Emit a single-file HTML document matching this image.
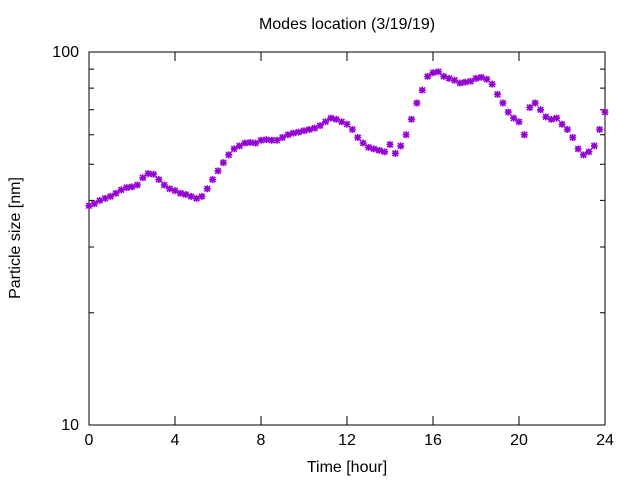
<!DOCTYPE html>
<html><head><meta charset="utf-8"><style>
body{margin:0;background:#fff;}
svg text{font-family:"Liberation Sans",sans-serif;font-size:16px;fill:#000;}
</style></head><body>
<svg id="chart" width="640" height="480" xmlns="http://www.w3.org/2000/svg">
<rect width="640" height="480" fill="#fff"/>
<text x="347" y="29" text-anchor="middle">Modes location (3/19/19)</text>
<text x="347" y="472" text-anchor="middle">Time [hour]</text>
<text transform="translate(20,238) rotate(-90)" text-anchor="middle">Particle size [nm]</text>
<g id="axes"></g>
<g id="marks"></g>
</svg>
<script>
const hours=[0,0.25,0.5,0.75,1,1.25,1.5,1.75,2,2.25,2.5,2.75,3,3.25,3.5,3.75,4,4.25,4.5,4.75,5,5.25,5.5,5.75,6,6.25,6.5,6.75,7,7.25,7.5,7.75,8,8.25,8.5,8.75,9,9.25,9.5,9.75,10,10.25,10.5,10.75,11,11.25,11.5,11.75,12,12.25,12.5,12.75,13,13.25,13.5,13.75,14,14.25,14.5,14.75,15,15.25,15.5,15.75,16,16.25,16.5,16.75,17,17.25,17.5,17.75,18,18.25,18.5,18.75,19,19.25,19.5,19.75,20,20.25,20.5,20.75,21,21.25,21.5,21.75,22,22.25,22.5,22.75,23,23.25,23.5,23.75,24];
const sizes=[38.7,39.2,40,40.5,41,41.8,42.7,43.3,43.5,44,46,47.2,47,45.5,44,43,42.5,41.8,41.5,41,40.5,41,43,45.5,48,50.5,53,55,56,57,57.2,57,58,58.2,58,58,59,60,60.6,61,61.5,62,62.5,63.5,65,66.5,66,65,64,62,59,57,55.5,55,54.5,54,56.5,53.5,56,60,66,73,79,86,88,88.5,86,85,84,82.6,83,83.5,85,85.5,84.5,82,77,73,69,66.5,65,60,71,73,70,67,66,66.5,64,62,59,55,53,54,56,62,69];
const xTicks=[0,4,8,12,16,20,24];
const yTicks=[10,100];
const yMinor=[20,30,40,50,60,70,80,90];
const X0=89,X1=605,Y0=425,Y1=52;
const xs=h=>X0+(X1-X0)*h/24;
const ys=v=>Y0-(Y0-Y1)*Math.log10(v/10);
const NS="http://www.w3.org/2000/svg";
const axes=document.getElementById('axes'),marks=document.getElementById('marks');
function mk(tag,attrs,parent){const e=document.createElementNS(NS,tag);for(const k in attrs)e.setAttribute(k,attrs[k]);parent.appendChild(e);return e;}
const frame=mk('rect',{x:X0,y:Y1,width:X1-X0,height:Y0-Y1,fill:'none',stroke:'#000','stroke-width':1},axes);


xTicks.forEach(t=>{const x=xs(t);
 const l=mk('path',{d:`M${x},${Y0}v-9M${x},${Y1}v9`,stroke:'#000'},axes);
 
 
 const tx=mk('text',{x:x,y:Y0+20,'text-anchor':'middle'},axes);tx.textContent=t;
 
 
});
yTicks.forEach(t=>{const y=ys(t);
 const l=mk('path',{d:`M${X0},${y}h9M${X1},${y}h-9`,stroke:'#000'},axes);
 
 
 const tx=mk('text',{x:X0-10,y:y+5,'text-anchor':'end'},axes);tx.textContent=t;
 
 
});
yMinor.forEach(t=>{const y=ys(t);
 const l=mk('path',{d:`M${X0},${y}h5M${X1},${y}h-5`,stroke:'#000'},axes);
 
 
});
hours.forEach((h,i)=>{const x=xs(h),y=ys(sizes[i]),r=3.5;
 const p=mk('path',{d:`M${x-r},${y}h${2*r}M${x},${y-r}v${2*r}M${x-r*0.8},${y-r*0.8}l${1.6*r},${1.6*r}M${x-r*0.8},${y+r*0.8}l${1.6*r},${-1.6*r}`,stroke:'#9400d3','stroke-width':1.6},marks);
 
 
});
</script>
</body></html>
